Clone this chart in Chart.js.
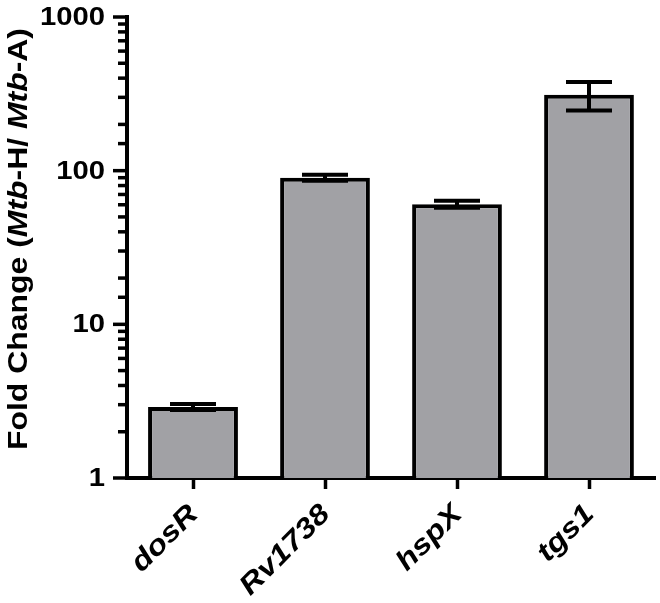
<!DOCTYPE html>
<html>
<head>
<meta charset="utf-8">
<script src="https://cdn.jsdelivr.net/npm/chart.js@4/dist/chart.umd.min.js"></script>
<style>
  html, body { margin: 0; padding: 0; background: #fff; }
  #wrap { width: 660px; height: 603px; position: relative; }
</style>
</head>
<body>
<div id="wrap"><canvas id="chart"></canvas></div>
<script>
const genes = ['dosR', 'Rv1738', 'hspX', 'tgs1'];
const foldChange = [2.9, 90, 60.5, 312];
const foldError = [0.13, 4, 3.2, 66];
const majorTicks = [1, 10, 100, 1000];

const FONT = "'Liberation Sans', Arial, sans-serif";
const STRETCH = 1.17;  // the original lettering is a bit wider than Arial

// y-axis tick marks (major + log minor) and labels
const yAxisMarks = {
  id: 'yAxisMarks',
  afterDraw(chart) {
    const { ctx } = chart;
    const y = chart.scales.y;
    const x0 = y.right;
    ctx.save();
    ctx.strokeStyle = '#000';
    ctx.lineWidth = 3.5;
    y.ticks.forEach(t => {
      const py = y.getPixelForValue(t.value);
      const len = majorTicks.includes(t.value) ? 14 : 9;
      ctx.beginPath();
      ctx.moveTo(x0 - len, py);
      ctx.lineTo(x0, py);
      ctx.stroke();
    });
    ctx.fillStyle = '#000';
    ctx.font = 'bold 25px ' + FONT;
    ctx.textAlign = 'right';
    ctx.textBaseline = 'middle';
    majorTicks.forEach(v => {
      const py = y.getPixelForValue(v);
      ctx.save();
      ctx.translate(105, py + 1);
      ctx.scale(STRETCH, 1);
      ctx.fillText(String(v), 0, 0);
      ctx.restore();
    });
    ctx.restore();
  }
};

// rotated italic category labels
const xLabels = {
  id: 'xLabels',
  afterDraw(chart) {
    const { ctx } = chart;
    const x = chart.scales.x;
    ctx.save();
    ctx.fillStyle = '#000';
    ctx.font = 'italic bold 28px ' + FONT;
    ctx.textAlign = 'right';
    ctx.textBaseline = 'middle';
    genes.forEach((g, i) => {
      const px = x.getPixelForValue(i);
      ctx.save();
      ctx.translate(px + 1, x.top + 32);
      ctx.rotate(-Math.PI / 4);
      ctx.scale(STRETCH, 1);
      ctx.fillText(g, 0, 0);
      ctx.restore();
    });
    ctx.restore();
  }
};

const errorBars = {
  id: 'errorBars',
  afterDatasetsDraw(chart) {
    const { ctx } = chart;
    const y = chart.scales.y;
    const meta = chart.getDatasetMeta(0);
    ctx.save();
    ctx.strokeStyle = '#000';
    ctx.lineWidth = 4;
    meta.data.forEach((bar, i) => {
      const hi = y.getPixelForValue(foldChange[i] + foldError[i]);
      const lo = y.getPixelForValue(foldChange[i] - foldError[i]);
      const cx = bar.x, half = 23;
      ctx.beginPath();
      ctx.moveTo(cx, hi); ctx.lineTo(cx, lo);
      ctx.moveTo(cx - half, hi); ctx.lineTo(cx + half, hi);
      ctx.moveTo(cx - half, lo); ctx.lineTo(cx + half, lo);
      ctx.stroke();
    });
    ctx.restore();
  }
};

// y title with italic parts
const yTitle = {
  id: 'yTitle',
  afterDraw(chart) {
    const { ctx } = chart;
    const parts = [
      ['Fold Change (', false],
      ['Mtb', true],
      ['-H/ ', false],
      ['Mtb', true],
      ['-A)', false]
    ];
    const fontFor = it => (it ? 'italic ' : '') + 'bold 27px ' + FONT;
    ctx.save();
    ctx.fillStyle = '#000';
    ctx.textBaseline = 'alphabetic';
    let total = 0;
    parts.forEach(([s, it]) => {
      ctx.font = fontFor(it);
      total += ctx.measureText(s).width;
    });
    const target = 422;
    const sx = target / total;
    ctx.translate(27, 239 + target / 2);
    ctx.rotate(-Math.PI / 2);
    ctx.scale(sx, 1);
    let x = 0;
    parts.forEach(([s, it]) => {
      ctx.font = fontFor(it);
      ctx.fillText(s, x, 0);
      x += ctx.measureText(s).width;
    });
    ctx.restore();
  }
};

new Chart(document.getElementById('chart'), {
  type: 'bar',
  data: {
    labels: genes,
    datasets: [{
      data: foldChange,
      backgroundColor: '#a1a1a5',
      borderColor: '#000',
      borderWidth: 4,
      borderSkipped: 'bottom',
      barPercentage: 0.68,
      categoryPercentage: 1
    }]
  },
  options: {
    responsive: true,
    maintainAspectRatio: false,
    animation: false,
    layout: { padding: { top: 17, right: 5, left: 0, bottom: 0 } },
    plugins: { legend: { display: false }, tooltip: { enabled: false } },
    scales: {
      x: {
        offset: true,
        grid: { display: true, drawOnChartArea: false, offset: false, tickLength: 11, tickWidth: 3.5, tickColor: '#000' },
        border: { display: true, color: '#000', width: 4 },
        ticks: { display: false },
        afterFit(scale) { scale.height = 125; }
      },
      y: {
        type: 'logarithmic',
        min: 1,
        max: 1000,
        grid: { display: false },
        border: { display: true, color: '#000', width: 4 },
        ticks: { display: false, autoSkip: false },
        afterFit(scale) { scale.width = 127; }
      }
    }
  },
  plugins: [yAxisMarks, xLabels, errorBars, yTitle]
});
</script>
</body>
</html>
